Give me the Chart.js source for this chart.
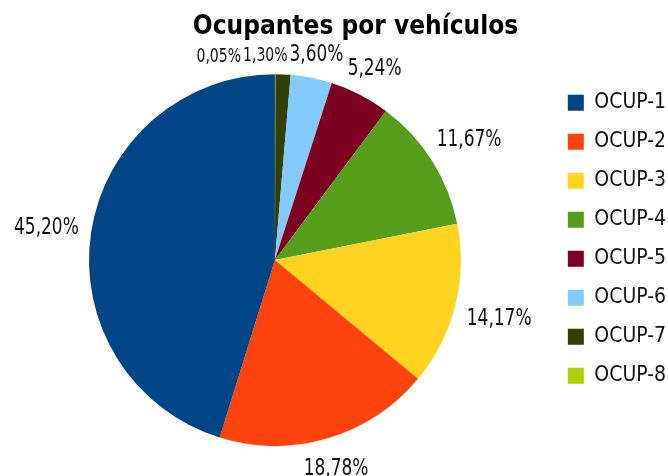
<!DOCTYPE html>
<html>
<head>
<meta charset="utf-8">
<script src="https://cdn.jsdelivr.net/npm/chart.js@4"></script>
<style>
html,body{margin:0;padding:0;background:#fff;}
#wrap{width:668px;height:476px;position:relative;}
</style>
</head>
<body>
<div id="wrap"><canvas id="c" width="668" height="476"></canvas></div>
<script>
// ---- data ----
const categories = ['OCUP-1', 'OCUP-2', 'OCUP-3', 'OCUP-4', 'OCUP-5', 'OCUP-6', 'OCUP-7', 'OCUP-8'];
const shares = [45.20, 18.78, 14.17, 11.67, 5.24, 3.60, 1.30, 0.05];
const sliceColors = ['#004586', '#ff420e', '#ffd320', '#579d1c', '#7e0021', '#83caff', '#314004', '#aecf00'];
const titleText = 'Ocupantes por vehículos';

// the pie runs clockwise from 12 o'clock starting with the last category
const pieCategories = categories.slice().reverse();
const pieShares = shares.slice().reverse();
const pieColors = sliceColors.slice().reverse();

const labelFamily = '"DejaVu Sans Condensed", "DejaVu Sans", sans-serif';

function fmtPct(v) {
  return v.toFixed(2).replace('.', ',') + '%';
}

// outside-end percentage labels placed from the arc geometry
const pieLabels = {
  id: 'pieLabels',
  afterLayout(chart, args, opts) {
    // nudge the chart title sideways (layout tweak)
    const t = chart.titleBlock;
    if (t && opts.titleShift) { t.left += opts.titleShift; t.right += opts.titleShift; }
  },
  afterDraw(chart, args, opts) {
    const meta = chart.getDatasetMeta(0);
    const data = chart.data.datasets[0].data;
    const ctx = chart.ctx;
    const sx = opts.squeeze || 1;
    const placed = [];
    ctx.save();
    ctx.fillStyle = '#111';
    ctx.textAlign = 'center';
    ctx.textBaseline = 'alphabetic';
    for (let i = meta.data.length - 1; i >= 0; i--) {
      const arc = meta.data[i];
      const p = arc.getProps(['x', 'y', 'startAngle', 'endAngle', 'outerRadius'], true);
      const mid = (p.startAngle + p.endAngle) / 2;
      const ux = Math.cos(mid), uy = Math.sin(mid);
      const v = data[i];
      const size = v < 2 ? 19 : 23;
      ctx.font = size + 'px ' + labelFamily;
      const text = fmtPct(v);
      const w = ctx.measureText(text).width * sx;
      const h = size * 0.73;
      const d = p.outerRadius + 12 + Math.abs(ux) * w / 2 + Math.abs(uy) * h / 2;
      let cx = p.x + ux * d;
      const cy = p.y + uy * d;
      let moved = true, guard = 0;
      while (moved && guard++ < 50) {
        moved = false;
        for (const q of placed) {
          if (Math.abs(cx - q.cx) < (w + q.w) / 2 + 2 && Math.abs(cy - q.cy) < (h + q.h) / 2 + 2) {
            cx = q.cx - (w + q.w) / 2 - 2;
            moved = true;
          }
        }
      }
      placed.push({cx, cy, w, h});
      ctx.save();
      ctx.translate(cx, cy + h / 2);
      ctx.scale(sx, 1);
      ctx.fillText(text, 0, 0);
      ctx.restore();
    }
    ctx.restore();
  }
};

new Chart(document.getElementById('c'), {
  type: 'pie',
  data: {
    labels: pieCategories,
    datasets: [{
      data: pieShares,
      backgroundColor: pieColors,
      borderWidth: 0
    }]
  },
  options: {
    responsive: false,
    animation: false,
    layout: { padding: { left: -1, right: -8, top: 0, bottom: 30 } },
    plugins: {
      pieLabels: { squeeze: 0.82, titleShift: 18 },
      title: {
        display: true,
        text: titleText,
        color: '#000',
        font: { family: '"DejaVu Sans Condensed", "DejaVu Sans", sans-serif', size: 26, weight: 'bold' },
        padding: { top: 12, bottom: 31 }
      },
      legend: {
        position: 'right',
        align: 'start',
        fullSize: false,
        reverse: true,
        labels: {
          boxWidth: 16,
          boxHeight: 16,
          padding: 18,
          color: '#111',
          font: { family: labelFamily, size: 21 }
        }
      },
      tooltip: { enabled: false }
    }
  },
  plugins: [pieLabels]
});
</script>
</body>
</html>
